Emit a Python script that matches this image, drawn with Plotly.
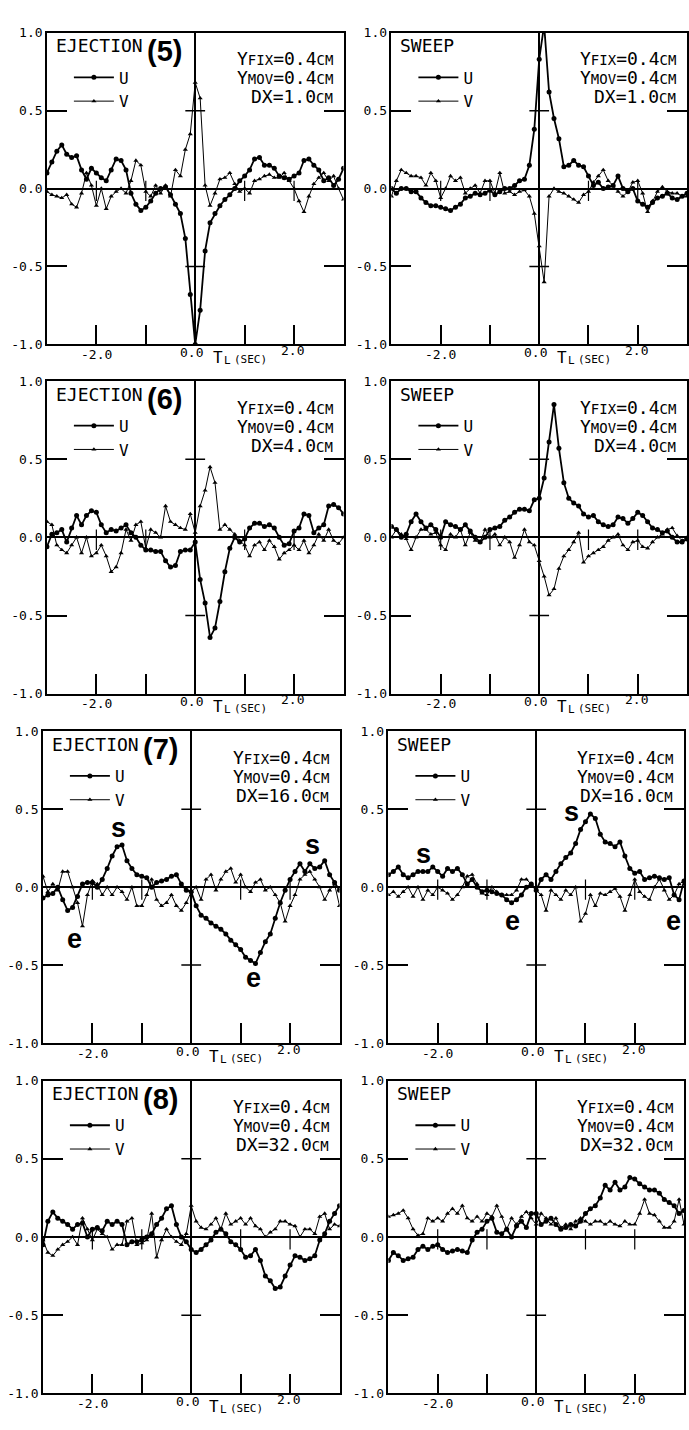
import plotly.graph_objects as go

# ---------------- data ----------------
T = [-3.0, -2.9, -2.8, -2.7, -2.6, -2.5, -2.4, -2.3, -2.2, -2.1,
     -2.0, -1.9, -1.8, -1.7, -1.6, -1.5, -1.4, -1.3, -1.2, -1.1,
     -1.0, -0.9, -0.8, -0.7, -0.6, -0.5, -0.4, -0.3, -0.2, -0.1,
     0.0, 0.1, 0.2, 0.3, 0.4, 0.5, 0.6, 0.7, 0.8, 0.9,
     1.0, 1.1, 1.2, 1.3, 1.4, 1.5, 1.6, 1.7, 1.8, 1.9,
     2.0, 2.1, 2.2, 2.3, 2.4, 2.5, 2.6, 2.7, 2.8, 2.9,
     3.0]

U_EJ5 = [0.10, 0.17, 0.24, 0.28, 0.22, 0.20, 0.21, 0.12, 0.06, 0.13,
         0.10, 0.07, 0.05, 0.12, 0.19, 0.18, 0.12, -0.03, -0.10, -0.14,
         -0.12, -0.08, -0.03, 0.00, 0.01, -0.04, -0.10, -0.16, -0.32, -0.68,
         -1.00, -0.78, -0.40, -0.22, -0.16, -0.11, -0.07, -0.04, 0.00, 0.05,
         0.08, 0.12, 0.19, 0.20, 0.15, 0.15, 0.13, 0.08, 0.07, 0.06,
         0.08, 0.10, 0.18, 0.19, 0.15, 0.12, 0.05, 0.07, 0.02, 0.06,
         0.13]
V_EJ5 = [-0.02, -0.04, -0.05, -0.06, -0.04, -0.10, -0.12, -0.03, 0.10, 0.02,
         -0.11, 0.00, -0.13, -0.05, -0.02, 0.00, -0.03, 0.05, 0.18, 0.15,
         -0.02, -0.05, 0.02, -0.03, 0.02, -0.05, 0.12, 0.08, 0.25, 0.35,
         0.68, 0.58, 0.02, -0.11, -0.03, 0.06, 0.07, 0.10, 0.03, -0.02,
         0.00, -0.03, 0.05, 0.06, 0.08, 0.09, 0.07, 0.07, 0.10, 0.05,
         0.00, -0.08, -0.15, -0.05, 0.03, 0.07, 0.10, 0.05, 0.08, 0.00,
         -0.07]
U_SW5 = [0.00, -0.03, 0.00, 0.00, -0.02, -0.02, -0.06, -0.09, -0.11, -0.11,
         -0.12, -0.13, -0.14, -0.12, -0.10, -0.06, -0.05, -0.03, -0.04, -0.03,
         -0.01, -0.04, -0.02, 0.00, 0.00, 0.02, 0.05, 0.06, 0.15, 0.38,
         0.83, 1.05, 0.62, 0.45, 0.32, 0.14, 0.15, 0.18, 0.15, 0.14,
         0.08, 0.02, 0.04, 0.00, 0.01, 0.02, 0.08, 0.00, -0.02, 0.00,
         -0.08, -0.10, -0.12, -0.09, -0.06, -0.05, -0.03, -0.06, -0.07, -0.05,
         -0.03]
V_SW5 = [-0.05, 0.05, 0.12, 0.10, 0.08, 0.08, 0.07, 0.02, 0.10, 0.05,
         -0.06, 0.00, 0.08, 0.05, 0.07, -0.03, 0.00, 0.02, -0.03, 0.05,
         0.05, -0.03, 0.10, -0.03, -0.02, -0.04, -0.02, -0.01, -0.05, -0.16,
         -0.37, -0.60, -0.05, 0.00, -0.02, -0.03, -0.05, -0.07, -0.09, -0.04,
         -0.02, 0.04, 0.08, 0.12, 0.05, 0.02, -0.02, -0.05, -0.02, 0.04,
         0.05, -0.03, -0.15, -0.08, -0.02, 0.01, -0.02, -0.03, -0.03, -0.05,
         -0.05]

U_EJ6 = [-0.06, 0.02, 0.03, 0.05, -0.03, 0.06, 0.14, 0.08, 0.14, 0.17,
         0.16, 0.08, 0.03, 0.05, 0.04, 0.06, 0.08, 0.03, 0.00, -0.05,
         -0.08, -0.08, -0.09, -0.09, -0.15, -0.19, -0.18, -0.09, -0.08, -0.08,
         -0.03, -0.27, -0.42, -0.64, -0.58, -0.41, -0.22, -0.07, 0.00, -0.03,
         -0.01, 0.06, 0.09, 0.09, 0.07, 0.08, 0.06, 0.00, -0.05, -0.04,
         0.04, 0.06, 0.15, 0.14, 0.03, 0.06, 0.08, 0.20, 0.21, 0.19,
         0.15]
V_EJ6 = [0.10, 0.08, -0.05, -0.08, -0.10, -0.05, 0.00, -0.10, 0.00, -0.12,
         -0.10, -0.05, -0.12, -0.22, -0.19, -0.10, 0.05, -0.02, 0.08, 0.10,
         -0.07, 0.05, 0.03, 0.00, 0.20, 0.10, 0.08, 0.06, 0.05, 0.15,
         0.03, 0.20, 0.30, 0.45, 0.35, 0.05, 0.08, 0.05, 0.02, -0.02,
         -0.05, -0.12, -0.05, -0.03, -0.08, -0.02, -0.06, -0.14, -0.10, -0.08,
         -0.05, -0.08, -0.02, -0.10, -0.05, 0.02, -0.02, 0.05, -0.02, -0.04,
         0.00]
U_SW6 = [0.07, 0.05, 0.00, 0.02, 0.10, 0.15, 0.10, 0.06, 0.08, 0.05,
         0.00, 0.10, 0.08, 0.07, 0.05, 0.08, 0.04, 0.00, -0.03, 0.00,
         0.05, 0.06, 0.07, 0.11, 0.13, 0.16, 0.18, 0.18, 0.17, 0.24,
         0.25, 0.38, 0.61, 0.85, 0.57, 0.35, 0.25, 0.22, 0.20, 0.15,
         0.13, 0.14, 0.10, 0.08, 0.07, 0.08, 0.13, 0.12, 0.09, 0.12,
         0.16, 0.14, 0.10, 0.06, 0.05, 0.03, 0.04, 0.00, -0.03, -0.03,
         -0.01]
V_SW6 = [0.00, 0.05, 0.02, -0.01, -0.08, 0.00, 0.05, 0.05, 0.02, 0.03,
         -0.05, -0.08, 0.02, 0.00, 0.05, -0.05, 0.03, -0.02, -0.03, 0.05,
         0.00, 0.02, -0.05, 0.00, -0.03, -0.13, -0.05, 0.05, -0.03, -0.05,
         -0.15, -0.25, -0.37, -0.33, -0.20, -0.12, -0.08, -0.03, 0.03, -0.16,
         -0.12, -0.10, -0.08, -0.06, -0.02, 0.00, 0.02, -0.05, -0.08, -0.03,
         -0.02, -0.06, -0.07, -0.03, 0.00, 0.02, 0.05, 0.06, 0.01, -0.02,
         0.00]

U_EJ7 = [-0.07, -0.05, -0.04, 0.00, -0.08, -0.15, -0.13, -0.06, 0.02, 0.03,
         0.03, 0.00, 0.05, 0.12, 0.20, 0.26, 0.27, 0.17, 0.12, 0.08,
         0.07, 0.06, 0.00, 0.03, 0.04, 0.05, 0.07, 0.08, 0.02, -0.02,
         -0.03, -0.12, -0.18, -0.20, -0.23, -0.25, -0.27, -0.30, -0.34, -0.37,
         -0.40, -0.45, -0.47, -0.49, -0.42, -0.35, -0.30, -0.20, -0.10, -0.02,
         0.05, 0.10, 0.15, 0.10, 0.15, 0.12, 0.13, 0.17, 0.08, 0.03,
         -0.02]
V_EJ7 = [0.07, -0.03, 0.02, -0.02, 0.10, 0.10, 0.00, -0.10, -0.25, -0.05,
         0.04, 0.02, -0.05, 0.00, -0.05, 0.00, -0.03, -0.08, 0.00, -0.12,
         -0.12, -0.05, 0.05, -0.08, -0.12, -0.10, -0.05, -0.12, -0.15, -0.10,
         -0.03, 0.00, -0.08, 0.05, 0.08, -0.02, 0.05, 0.10, 0.12, 0.03,
         0.08, 0.00, -0.03, 0.03, 0.05, -0.02, 0.00, -0.05, -0.10, -0.22,
         -0.12, -0.05, 0.05, 0.08, 0.10, 0.05, 0.00, -0.08, -0.02, 0.02,
         -0.12]
U_SW7 = [0.08, 0.10, 0.13, 0.08, 0.06, 0.08, 0.10, 0.10, 0.10, 0.13,
         0.10, 0.07, 0.12, 0.10, 0.12, 0.08, 0.02, 0.05, 0.00, -0.03,
         -0.02, -0.03, -0.04, -0.05, -0.08, -0.10, -0.08, -0.05, 0.00, 0.02,
         -0.02, 0.05, 0.08, 0.05, 0.10, 0.15, 0.19, 0.22, 0.28, 0.37,
         0.42, 0.47, 0.44, 0.34, 0.29, 0.28, 0.26, 0.29, 0.20, 0.12,
         0.09, 0.10, 0.05, 0.06, 0.07, 0.06, 0.05, 0.06, -0.05, -0.08,
         0.04]
V_SW7 = [-0.05, -0.03, -0.06, -0.03, 0.00, -0.06, 0.00, -0.08, -0.02, -0.05,
         0.00, -0.02, -0.04, -0.08, -0.05, 0.00, 0.07, 0.08, 0.02, -0.04,
         -0.05, 0.00, -0.03, -0.05, -0.05, -0.05, -0.02, 0.05, 0.05, 0.02,
         -0.02, -0.05, -0.15, -0.02, -0.05, -0.08, -0.02, -0.05, 0.00, -0.22,
         -0.17, -0.05, -0.12, -0.04, -0.05, -0.03, -0.01, -0.06, -0.15, -0.05,
         0.05, -0.03, -0.06, -0.08, 0.00, 0.05, -0.02, -0.08, -0.05, 0.02,
         0.04]

U_EJ8 = [-0.05, 0.10, 0.16, 0.12, 0.10, 0.08, 0.05, 0.08, 0.09, 0.00,
         0.05, 0.06, 0.04, 0.10, 0.08, 0.10, 0.08, -0.05, -0.03, -0.03,
         -0.02, 0.00, 0.02, 0.08, 0.12, 0.18, 0.20, 0.08, 0.00, -0.03,
         -0.08, -0.10, -0.08, -0.05, -0.02, 0.03, 0.05, 0.02, -0.03, -0.05,
         -0.08, -0.13, -0.12, -0.08, -0.15, -0.25, -0.28, -0.33, -0.32, -0.25,
         -0.18, -0.12, -0.13, -0.15, -0.14, -0.12, -0.02, 0.02, 0.10, 0.15,
         0.20]
V_EJ8 = [-0.02, -0.10, -0.12, -0.08, -0.05, -0.03, 0.00, -0.05, 0.12, 0.05,
         -0.02, 0.05, 0.02, 0.00, -0.08, -0.05, -0.05, 0.10, 0.12, -0.05,
         -0.04, -0.02, 0.15, -0.13, -0.02, 0.05, 0.00, -0.03, -0.05, 0.02,
         0.20, 0.10, 0.06, 0.05, 0.08, 0.12, 0.05, 0.15, 0.08, 0.10,
         0.12, 0.08, 0.12, 0.07, 0.05, 0.00, 0.03, 0.05, 0.10, 0.10,
         0.08, 0.07, 0.00, 0.05, 0.05, 0.02, 0.13, 0.15, 0.05, 0.08,
         0.07]
U_SW8 = [-0.15, -0.10, -0.12, -0.15, -0.14, -0.13, -0.08, -0.06, -0.08, -0.06,
         -0.05, -0.08, -0.10, -0.09, -0.08, -0.09, -0.10, -0.02, 0.03, 0.05,
         0.10, 0.12, 0.03, 0.02, 0.05, 0.00, 0.07, 0.10, 0.06, 0.15,
         0.15, 0.08, 0.10, 0.12, 0.08, 0.05, 0.06, 0.08, 0.07, 0.10,
         0.15, 0.18, 0.20, 0.25, 0.33, 0.30, 0.35, 0.30, 0.32, 0.38,
         0.37, 0.34, 0.32, 0.30, 0.30, 0.28, 0.24, 0.22, 0.20, 0.15,
         0.17]
V_SW8 = [0.13, 0.14, 0.15, 0.17, 0.12, 0.05, 0.01, 0.02, 0.12, 0.10,
         0.12, 0.10, 0.15, 0.18, 0.15, 0.20, 0.12, 0.10, 0.13, 0.10,
         0.15, 0.13, 0.20, 0.13, 0.05, 0.12, 0.08, 0.13, 0.16, 0.12,
         0.08, 0.15, 0.12, 0.08, 0.12, 0.06, 0.08, 0.05, 0.10, 0.12,
         0.10, 0.08, 0.10, 0.10, 0.08, 0.10, 0.08, 0.07, 0.10, 0.08,
         0.08, 0.15, 0.24, 0.15, 0.14, 0.10, 0.06, 0.06, 0.10, 0.24,
         0.08]

TITLES = ["EJECTION", "SWEEP", "EJECTION", "SWEEP", "EJECTION", "SWEEP", "EJECTION", "SWEEP"]
NUMBERS = ["(5)", "", "(6)", "", "(7)", "", "(8)", ""]
DX = ["1.0", "1.0", "4.0", "4.0", "16.0", "16.0", "32.0", "32.0"]
U_SERIES = [U_EJ5, U_SW5, U_EJ6, U_SW6, U_EJ7, U_SW7, U_EJ8, U_SW8]
V_SERIES = [V_EJ5, V_SW5, V_EJ6, V_SW6, V_EJ7, V_SW7, V_EJ8, V_SW8]
# event marks (s = sweep, e = ejection) on panel (7): (panel index, label, t, value)
EVENT_MARKS = [(4, "s", -1.48, 0.38), (4, "e", -2.36, -0.33), (4, "e", 1.27, -0.58), (4, "s", 2.45, 0.27),
               (5, "s", -2.28, 0.21), (5, "s", 0.71, 0.48), (5, "e", -0.48, -0.22), (5, "e", 2.79, -0.22)]

# ---------------- layout geometry ----------------
W, H = 689, 1430
ROWS_PX = [(26, 341), (378, 694), (732, 1047), (1085, 1401)]
COLS_PX = [[(47, 344), (392, 688)], [(47, 344), (392, 688)],
           [(43, 340), (389, 685)], [(43, 340), (389, 685)]]
MONO = "DejaVu Sans Mono"
BOLD = "Liberation Sans"

fig = go.Figure()
layout = dict(width=W, height=H, margin=dict(l=0, r=0, t=0, b=0),
              paper_bgcolor="white", plot_bgcolor="white", showlegend=True)
annotations = []
shapes = []


def txt(text, xref, yref, x, y, xanchor, yanchor, size, xshift=0, yshift=0, family=MONO, weight="normal"):
    return dict(text=text, xref=xref, yref=yref, x=x, y=y, xanchor=xanchor, yanchor=yanchor,
                xshift=xshift, yshift=yshift, showarrow=False,
                font=dict(family=family, size=size, color="black", weight=weight))


for i in range(8):
    n = i + 1
    r, c = divmod(i, 2)
    top, bot = ROWS_PX[r]
    left, right = COLS_PX[r][c]
    xs = "" if n == 1 else str(n)
    xname, yname = "x" + xs, "y" + xs
    leg = "legend" if n == 1 else f"legend{n}"

    layout["xaxis" + xs] = dict(
        domain=[left / W, right / W], anchor=yname, range=[-3.0, 3.0],
        showline=True, linecolor="black", linewidth=1.5, mirror=True,
        ticks="inside", tickvals=[-2, -1, 0, 1, 2], ticklen=20, tickwidth=1.5,
        tickcolor="black", showticklabels=False, showgrid=False,
        zeroline=True, zerolinecolor="black", zerolinewidth=1.5, fixedrange=True)
    layout["yaxis" + xs] = dict(
        domain=[1 - bot / H, 1 - top / H], anchor=xname, range=[-1.0, 1.0],
        showline=True, linecolor="black", linewidth=1.5, mirror="ticks",
        ticks="inside", tickvals=[-1, -0.5, 0, 0.5, 1],
        ticktext=["-1.0", "-0.5", "0.0", "0.5", "1.0"], ticklen=20, tickwidth=1.5,
        tickcolor="black", tickfont=dict(family=MONO, size=13, color="black"),
        showgrid=False, zeroline=True, zerolinecolor="black", zerolinewidth=1.5,
        fixedrange=True)

    fig.add_trace(go.Scatter(
        x=T, y=U_SERIES[i], mode="lines+markers", name="U", xaxis=xname, yaxis=yname,
        line=dict(color="black", width=1.8), marker=dict(symbol="circle", size=5, color="black"),
        legend=leg, cliponaxis=True))
    fig.add_trace(go.Scatter(
        x=T, y=V_SERIES[i], mode="lines+markers", name="V", xaxis=xname, yaxis=yname,
        line=dict(color="black", width=1), marker=dict(symbol="triangle-up", size=4.5, color="black"),
        legend=leg, cliponaxis=True))

    layout[leg] = dict(
        x=(left + 22) / W, y=1 - (top + 28) / H, xanchor="left", yanchor="top",
        bgcolor="rgba(0,0,0,0)", font=dict(family=MONO, size=16, color="black"),
        itemwidth=40, tracegroupgap=0)

    # crossing ticks on the centre lines
    for yv in (0.5, -0.5):
        shapes.append(dict(type="line", xref=xname, yref=yname, x0=-0.2, x1=0.2, y0=yv, y1=yv,
                           line=dict(color="black", width=1.5)))
    for xv in (-2, -1, 1, 2):
        shapes.append(dict(type="line", xref=xname, yref=yname, x0=xv, x1=xv, y0=-0.08, y1=0.05,
                           line=dict(color="black", width=1.2)))

    xd, yd = xname + " domain", yname + " domain"
    annotations.append(txt(TITLES[i], xd, yd, 0, 1, "left", "middle", 18, xshift=7, yshift=-13))
    if NUMBERS[i]:
        annotations.append(txt(NUMBERS[i], xd, yd, 0, 1, "left", "middle", 29,
                               xshift=98, yshift=-18, family=BOLD, weight="bold"))
    small = "<span style='font-size:14px'>%s</span>"
    lines = ["Y" + small % "FIX" + "=0.4" + small % "CM",
             "Y" + small % "MOV" + "=0.4" + small % "CM",
             "DX=" + DX[i] + small % "CM"]
    for k, t in enumerate(lines):
        annotations.append(txt(t, xd, yd, 1, 1, "right", "middle", 18,
                               xshift=-9, yshift=-26 - 19 * k))
    # x tick labels and axis title
    annotations.append(txt("-2.0", xname, yd, -2, 0, "center", "middle", 13, yshift=-10))
    annotations.append(txt("0.0", xname, yd, -0.08, 0, "center", "middle", 13, yshift=-8))
    annotations.append(txt("2.0", xname, yd, 1.97, 0, "center", "middle", 13, yshift=-6))
    annotations.append(txt("T", xname, yd, 0.32, 0, "left", "middle", 16, yshift=-13))
    annotations.append(txt("L", xname, yd, 0.32, 0, "left", "middle", 11, xshift=11, yshift=-16))
    annotations.append(txt("(SEC)", xname, yd, 0.32, 0, "left", "middle", 11, xshift=21, yshift=-15))

for (p, lab, tx, vy) in EVENT_MARKS:
    xs = "" if p == 0 else str(p + 1)
    annotations.append(txt(lab, "x" + xs, "y" + xs, tx, vy, "center", "middle", 27,
                           family=BOLD, weight="bold"))

layout["annotations"] = annotations
layout["shapes"] = shapes
fig.update_layout(**layout)
fig.write_html("out.html")
